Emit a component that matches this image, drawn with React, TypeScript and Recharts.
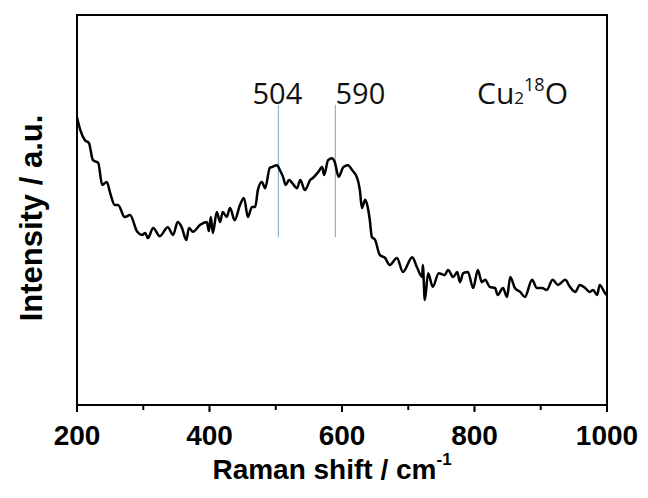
import { LineChart, Line, XAxis, YAxis, ReferenceLine, ReferenceArea } from "recharts";

// Raman spectrum of Cu2(18)O, intensity in arbitrary units (0-100 across the frame)
const shift = [
  200, 205, 212, 218, 224, 232, 238, 245, 250, 257, 262, 272, 280, 291, 298, 303, 307, 315, 325, 337,
  345, 352, 358, 365, 369, 375, 386, 396, 399, 402, 405, 411, 416, 420, 426, 431, 438, 446, 452, 458,
  464, 469, 473, 479, 484, 491, 494, 502, 506, 511, 515, 520, 525, 532, 537, 544, 552, 556, 564, 570,
  573, 579, 585, 589, 595, 602, 609, 615, 623, 627, 630, 635, 638, 642, 645, 650, 657, 665, 672, 683,
  692, 706, 713, 721, 722, 725, 730, 737, 746, 755, 760, 768, 774, 778, 783, 790, 798, 805, 811, 816,
  823, 831, 835, 843, 849, 854, 861, 869, 876, 887, 894, 902, 909, 918, 926, 937, 944, 952, 959, 967,
  974, 979, 985, 989, 997, 1000,
];
const intensity = [
  73.8, 70.5, 67.9, 67.2, 62.8, 62.1, 56.4, 57.2, 54.4, 51.3, 51.3, 48.2, 48.7, 44.4, 43.6, 44.1, 42.8, 45.4, 43.3, 45.6,
  43.6, 46.9, 45.6, 42.3, 45.4, 44.4, 46.2, 46.9, 44.6, 48.2, 44.1, 49.5, 46.9, 49.5, 48.2, 50.5, 47.4, 51.3, 53.1, 48.2,
  50.8, 50.8, 55.1, 57.2, 55.6, 60.8, 61.0, 61.5, 60.3, 58.5, 56.4, 57.7, 56.9, 55.6, 57.7, 55.1, 57.7, 58.2, 59.7, 61.0,
  59.0, 62.8, 63.3, 62.3, 58.5, 61.0, 61.5, 60.3, 58.2, 55.1, 50.5, 52.6, 51.3, 47.4, 43.1, 42.3, 38.5, 37.7, 35.9, 37.7,
  34.1, 37.9, 35.4, 32.8, 35.9, 26.9, 33.8, 30.3, 33.8, 33.3, 34.6, 32.8, 34.1, 31.5, 33.8, 34.1, 30.0, 34.6, 31.5, 32.1,
  30.3, 30.0, 28.2, 30.0, 27.7, 32.8, 30.0, 29.0, 27.7, 32.1, 30.0, 30.0, 29.5, 32.1, 30.8, 32.1, 30.3, 29.0, 30.8, 30.0,
  29.0, 29.5, 28.2, 30.8, 28.7, 28.2,
];
const peaks = [504, 590];
const peakLow = 43;
const peakHigh = 77;
const xTicks = [200, 300, 400, 500, 600, 700, 800, 900, 1000];

const data = shift.map((s, i) => ({ shift: s, intensity: intensity[i] }));

const axisFont = "'Liberation Sans', Arial, sans-serif";
const labelFont = "'Open Sans', 'Noto Sans', sans-serif";

// tick line is drawn by recharts (5px); majors get a small extension and a label
const XTick = ({ x, y, payload }: any) => {
  const major = payload.value % 200 === 0;
  return (
    <g>
      {major && <path d={`M${x},${y - 1}V${y + 2}`} stroke="#000" strokeWidth={2} fill="none" />}
      {major && (
        <text x={x} y={y + 35} textAnchor="middle" fontFamily={axisFont} fontWeight="bold" fontSize={28} fill="#000">
          {payload.value}
        </text>
      )}
    </g>
  );
};

const XTitle = ({ viewBox }: any) => {
  const cx = viewBox.x + viewBox.width / 2 - 10;
  return (
    <text x={cx} y={viewBox.y + 74} textAnchor="middle" fontFamily={axisFont} fontWeight="bold" fontSize={28} fill="#000">
      Raman shift / cm
      <tspan fontSize={17} dy={-14}>-1</tspan>
    </text>
  );
};

const YTitle = ({ viewBox }: any) => {
  const cy = viewBox.y + viewBox.height / 2 + 8;
  return (
    <text
      x={42}
      y={cy}
      transform={`rotate(-90 42 ${cy})`}
      textAnchor="middle"
      fontFamily={axisFont}
      fontWeight="bold"
      fontSize={31}
      fill="#000"
    >
      Intensity / a.u.
    </text>
  );
};

const peakLabel = (value: number, dx: number, dy: number) => (props: any) => {
  const { viewBox } = props;
  return (
    <text x={viewBox.x + dx} y={viewBox.y + dy} textAnchor="middle" fontFamily={labelFont} fontSize={29} fill="#111">
      {value}
    </text>
  );
};

export default function App() {
  return (
    <div style={{ position: "absolute", left: 0, top: 0, width: 648, height: 498, background: "#fff" }}>
      <LineChart width={648} height={498} data={data} margin={{ top: 15, right: 41, bottom: 0, left: 0 }}>
        <XAxis
          type="number"
          dataKey="shift"
          domain={[200, 1000]}
          ticks={xTicks}
          interval={0}
          height={93}
          tickSize={5}
          tickMargin={0}
          tickLine={{ stroke: "#000", strokeWidth: 2 }}
          tick={<XTick />}
          axisLine={{ stroke: "#000", strokeWidth: 2 }}
          label={{ content: XTitle }}
        />
        <YAxis
          type="number"
          domain={[0, 100]}
          width={77}
          tick={false}
          tickLine={false}
          axisLine={{ stroke: "#000", strokeWidth: 2 }}
          label={{ content: YTitle }}
        />
        <ReferenceArea x1={200} x2={1000} y1={0} y2={100} fill="none" stroke="#000" strokeWidth={2} />
        {peaks.map((p, i) => (
          <ReferenceLine
            key={p}
            segment={[
              { x: p, y: peakLow },
              { x: p, y: peakHigh },
            ]}
            stroke="#8db3cc"
            strokeWidth={1.2}
            label={{ content: i === 0 ? peakLabel(p, -1, -1) : peakLabel(p, 25, -1) }}
          />
        ))}
        <Line
          type="monotone"
          dataKey="intensity"
          stroke="#000"
          strokeWidth={2.5}
          dot={false}
          isAnimationActive={false}
        />
      </LineChart>
      <svg width={648} height={498} style={{ position: "absolute", left: 0, top: 0, pointerEvents: "none" }}>
        <text x={477} y={104} fontFamily={labelFont} fontSize={30} fill="#111">
          Cu
          <tspan fontSize={17} dy={0}>2</tspan>
          <tspan fontSize={18} dy={-13}>18</tspan>
          <tspan fontSize={30} dy={13}>O</tspan>
        </text>
      </svg>
    </div>
  );
}
